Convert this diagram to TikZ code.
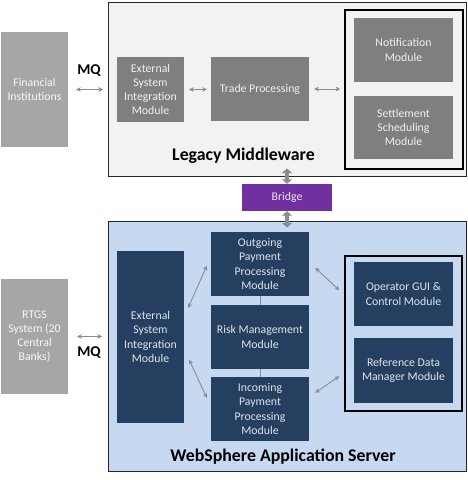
\documentclass[tikz,border=0pt]{standalone}
\usepackage{fontspec}
\setmainfont{Carlito}
\usetikzlibrary{arrows.meta,calc}
\definecolor{lgfill}{HTML}{F2F2F2}
\definecolor{extgray}{HTML}{A6A6A6}
\definecolor{modgray}{HTML}{7F7F7F}
\definecolor{navy}{HTML}{243F60}
\definecolor{wsfill}{HTML}{C6D9F1}
\definecolor{bridgec}{HTML}{7030A0}
\definecolor{arrgray}{HTML}{8C8C8C}
\begin{document}
\begin{tikzpicture}[x=1pt,y=1pt,
  every node/.style={font=\fontsize{11.8}{14.2}\selectfont},
  blk/.style={inner sep=0pt,align=center,anchor=center},
  extbox/.style={blk,fill=extgray,text=white!92!extgray},
  graymod/.style={blk,fill=modgray,text=white!88!modgray},
  navymod/.style={blk,fill=navy,text=white!86!navy},
  outer/.style={draw=black!85,line width=1pt,inner sep=0pt},
  innerframe/.style={draw=black,line width=1.5pt,inner sep=0pt},
  thin/.style={draw=arrgray,line width=0.9pt,{Stealth[length=4.5pt,width=4.5pt,inset=1.2pt]}-{Stealth[length=4.5pt,width=4.5pt,inset=1.2pt]}},
  thick/.style={draw=arrgray,line width=3.5pt,{Triangle[length=4.5pt,width=10pt]}-{Triangle[length=4.5pt,width=10pt]}},
  plain/.style={draw=arrgray,line width=0.9pt},
  title/.style={font=\fontsize{17.8}{20}\selectfont\bfseries,text=black}
]
\useasboundingbox (0,0) rectangle (468,-480);
% containers
\node[outer,fill=lgfill,minimum width=358pt,minimum height=174pt] (legacy) at (287.5,-89) {};
\node[outer,fill=wsfill,minimum width=358pt,minimum height=250pt] (ws) at (287.5,-346) {};
\node[innerframe,minimum width=118pt,minimum height=159pt] (lgin) at (404,-89.5) {};
\node[innerframe,minimum width=117pt,minimum height=155pt] (wsin) at (403.5,-333.5) {};
% external
\node[extbox,minimum width=67pt,minimum height=115pt] (fin) at (34.5,-89.5) {Financial\\Institutions};
\node[extbox,minimum width=67pt,minimum height=115pt] (rtgs) at (34.5,-336.5) {RTGS\\System (20\\Central\\Banks)};
% legacy modules
\node[graymod,minimum width=67pt,minimum height=65pt] (lesi) at (150.5,-89.5) {External\\System\\Integration\\Module};
\node[graymod,minimum width=98pt,minimum height=64pt] (trade) at (260,-89) {Trade Processing};
\node[graymod,minimum width=99pt,minimum height=64pt] (notif) at (403.5,-50) {Notification\\Module};
\node[graymod,minimum width=99pt,minimum height=63pt] (settle) at (403.5,-127.5) {Settlement\\Scheduling\\Module};
\node[title] (lgtitle) at (243.5,-156) {Legacy Middleware};
% bridge
\node[blk,fill=bridgec,text=white!88!bridgec,minimum width=90pt,minimum height=27pt] (bridge) at (287,-197.5) {Bridge};
% websphere modules
\node[navymod,minimum width=67pt,minimum height=172pt] (wesi) at (150.5,-337) {External\\System\\Integration\\Module};
\node[navymod,minimum width=98pt,minimum height=64pt] (out) at (260,-264) {Outgoing\\Payment\\Processing\\Module};
\node[navymod,minimum width=98pt,minimum height=64pt] (risk) at (260,-337) {Risk Management\\Module};
\node[navymod,minimum width=98pt,minimum height=64pt] (inc) at (260,-409) {Incoming\\Payment\\Processing\\Module};
\node[navymod,minimum width=99pt,minimum height=64pt] (oper) at (403.5,-294) {Operator GUI \&\\Control Module};
\node[navymod,minimum width=99pt,minimum height=65pt] (refd) at (403.5,-370.5) {Reference Data\\Manager Module};
\node[title] (wstitle) at (283,-457) {WebSphere Application Server};
% MQ labels
\node[font=\fontsize{15}{17}\selectfont\bfseries] (mq1) at (89,-71) {MQ};
\node[font=\fontsize{15}{17}\selectfont\bfseries] (mq2) at (89,-353) {MQ};
% connectors
\draw[thin,shorten <=8pt,shorten >=5pt] (fin.east) -- (fin.east -| legacy.west);
\draw[thin,shorten <=9pt,shorten >=6pt] (rtgs.east) -- (rtgs.east -| ws.west);
\draw[thin,shorten <=5pt,shorten >=4pt] (lesi.east) -- (lesi.east -| trade.west);
\draw[thin,shorten <=5pt,shorten >=4pt] (trade.east) -- (trade.east -| lgin.west);
\draw[thin] ([shift={(4,-57)}]wesi.north east) -- ([shift={(-4,-34)}]out.north west);
\draw[thin] ([shift={(5,-109)}]wesi.north east) -- ([shift={(-4,-21)}]inc.north west);
\draw[thin] ([shift={(6,-36)}]out.north east) -- ([shift={(-5,-35)}]wsin.north west);
\draw[thin] ([shift={(6,-16)}]inc.north east) -- ([shift={(-5,-121)}]wsin.north west);
\draw[plain] (out.south) -- (risk.north);
\draw[plain] (risk.south) -- (inc.north);
\draw[thick] ([yshift=8pt]bridge.north |- legacy.south) -- (bridge.north);
\draw[thick] (bridge.south) -- ([yshift=-7pt]bridge.south |- ws.north);
\end{tikzpicture}
\end{document}
